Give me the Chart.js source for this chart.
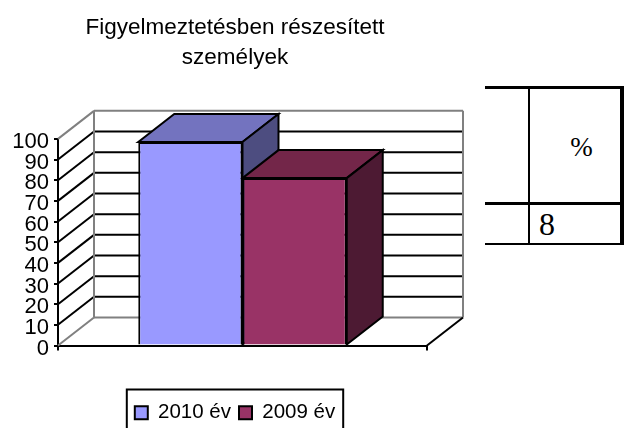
<!DOCTYPE html>
<html>
<head>
<meta charset="utf-8">
<title>Figyelmeztetésben részesített személyek</title>
<script src="https://cdn.jsdelivr.net/npm/chart.js@4"></script>
<style>
body { margin: 0; background: #fff; }
#myChart { position: absolute; left: 0; top: 0; }
#side {
    position: absolute; left: 485px; top: 86px; width: 139px;
    border-collapse: collapse; table-layout: fixed;
    font-family: "Liberation Serif", serif; color: #000;
}
#side td { padding: 0; }
#side .a { width: 43px; }
#side tr.r1 td { height: 113px; border-top: 3px solid #000; border-bottom: 3px solid #000; }
#side tr.r2 td { height: 38px; border-bottom: 2px solid #000; }
#side .b { border-left: 2px solid #000; border-right: 4px solid #000; }
#side .pct { font-size: 27px; text-align: center; padding-left: 13px; line-height: 32px; padding-top: 3px; box-sizing: border-box; }
#side .num { font-size: 32px; padding-left: 9px; line-height: 32px; }
</style>
</head>
<body>
<canvas id="myChart" width="470" height="428"></canvas>
<table id="side">
    <tr class="r1"><td class="a"></td><td class="b pct">%</td></tr>
    <tr class="r2"><td class="a"></td><td class="b num">8</td></tr>
</table>
<script>
var titleLines = ["Figyelmeztetésben részesített", "személyek"];
var categories = [""];
var seriesNames = ["2010 év", "2009 év"];
var values2010 = [98.5];
var values2009 = [81];
var yMin = 0;
var yMax = 100;
var yStep = 10;

// how far the back wall sits behind the front plane
var depthX = 36;
var depthY = -28;

function line(ctx, x1, y1, x2, y2, color, width) {
    ctx.strokeStyle = color;
    ctx.lineWidth = width;
    ctx.beginPath();
    ctx.moveTo(x1, y1);
    ctx.lineTo(x2, y2);
    ctx.stroke();
}

function poly(ctx, pts, fill) {
    ctx.fillStyle = fill;
    ctx.strokeStyle = '#000';
    ctx.lineWidth = 2;
    ctx.beginPath();
    ctx.moveTo(pts[0][0], pts[0][1]);
    for (var i = 1; i < pts.length; i++) {
        ctx.lineTo(pts[i][0], pts[i][1]);
    }
    ctx.closePath();
    ctx.fill();
    ctx.stroke();
}

var threeD = {
    id: 'threeD',
    afterLayout: function (chart) {
        // tick labels are clipped to the scale box, they hang out to the left of it
        chart.scales.y.left = 0;
    },
    beforeDatasetsDraw: function (chart) {
        var ctx = chart.ctx;
        var y = chart.scales.y;
        var a = chart.chartArea;
        ctx.save();

        // walls and gridlines
        y.ticks.forEach(function (t) {
            var py = y.getPixelForValue(t.value);
            var edge = t.value === yMin || t.value === yMax;
            line(ctx, a.left, py, a.left + depthX, py + depthY, edge ? '#808080' : '#000', 2);
            line(ctx, a.left + depthX, py + depthY, a.right + depthX, py + depthY, edge ? '#808080' : '#000', 2);
        });
        var backTop = y.getPixelForValue(yMax) + depthY;
        var backBottom = y.getPixelForValue(yMin) + depthY;
        line(ctx, a.left + depthX, backTop, a.left + depthX, backBottom, '#808080', 2);
        line(ctx, a.right + depthX, backTop, a.right + depthX, backBottom, '#808080', 2);
        line(ctx, a.right, a.bottom, a.right + depthX, a.bottom + depthY, '#000', 2);

        // top and side faces of the bars
        var tops = ['#7373BF', '#732649'];
        var sides = ['#4D4D80', '#4D1A33'];
        chart.data.datasets.forEach(function (ds, i) {
            chart.getDatasetMeta(i).data.forEach(function (bar) {
                var l = bar.x - bar.width / 2;
                var r = bar.x + bar.width / 2;
                poly(ctx, [[l, bar.y], [l + depthX, bar.y + depthY], [r + depthX, bar.y + depthY], [r, bar.y]], tops[i]);
                poly(ctx, [[r, bar.y], [r + depthX, bar.y + depthY], [r + depthX, bar.base + depthY], [r, bar.base]], sides[i]);
            });
        });
        ctx.restore();
    },
    afterDraw: function (chart) {
        // frame round the legend, runs off the bottom like the original
        var ctx = chart.ctx;
        var boxes = chart.legend.legendHitBoxes;
        var last = boxes[boxes.length - 1];
        var left = boxes[0].left - 8;
        var right = last.left + last.width + 8;
        ctx.save();
        ctx.strokeStyle = '#000';
        ctx.lineWidth = 2;
        ctx.strokeRect(left, chart.legend.top - 5, right - left, 60);
        ctx.restore();
    }
};

var ctx = document.getElementById('myChart').getContext('2d');
var chart = new Chart(ctx, {
    type: 'bar',
    plugins: [threeD],
    data: {
        labels: categories,
        datasets: [{
            label: seriesNames[0],
            data: values2010,
            backgroundColor: '#9999FF',
            borderColor: '#000',
            borderWidth: 2
        }, {
            label: seriesNames[1],
            data: values2009,
            backgroundColor: '#993366',
            borderColor: '#000',
            borderWidth: 2
        }]
    },
    options: {
        responsive: false,
        animation: false,
        layout: {
            autoPadding: false,
            padding: { left: 43, right: 43, top: 0, bottom: -5 }
        },
        datasets: {
            bar: { barPercentage: 1, categoryPercentage: 0.565 }
        },
        scales: {
            x: {
                afterFit: function (scale) { scale.height = 49; },
                grid: { drawOnChartArea: false, color: '#000', lineWidth: 2, tickLength: 5, offset: true },
                border: { color: '#000', width: 2 },
                ticks: { display: false }
            },
            y: {
                min: yMin,
                max: yMax,
                afterFit: function (scale) { scale.width = 15; },
                grid: { drawOnChartArea: false, color: '#000', lineWidth: 2, tickLength: 4 },
                border: { color: '#000', width: 2 },
                ticks: {
                    stepSize: yStep,
                    autoSkip: false,
                    padding: 5,
                    labelOffset: 3,
                    color: '#000',
                    font: { family: '"Liberation Sans"', size: 22 }
                }
            }
        },
        plugins: {
            tooltip: { enabled: false },
            title: {
                display: true,
                text: titleLines,
                color: '#000',
                padding: { top: 13, bottom: 66 },
                font: { family: '"Liberation Sans"', size: 22.5, weight: 'normal', lineHeight: 1.33 }
            },
            legend: {
                position: 'bottom',
                labels: {
                    boxWidth: 13,
                    boxHeight: 13,
                    padding: 8,
                    color: '#000',
                    font: { family: '"Liberation Sans"', size: 20.5 }
                }
            }
        }
    }
});
</script>
</body>
</html>
